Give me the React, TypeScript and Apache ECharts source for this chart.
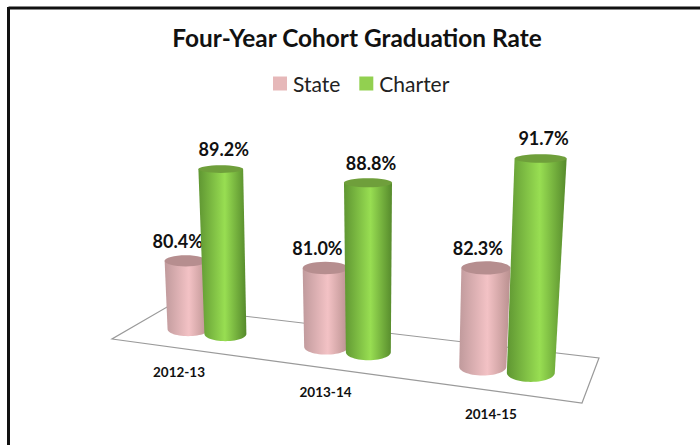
import React, { useEffect, useRef } from "react";
import * as echarts from "echarts";

const categories = ["2012-13", "2013-14", "2014-15"];
const stateValues = [80.4, 81.0, 82.3];
const charterValues = [89.2, 88.8, 91.7];

const FONT = "Lato, 'Open Sans', sans-serif";
const AXIS_MIN = 74;
const AXIS_MAX = 94;

// Floor quadrilateral: front-left, front-right, back-right, back-left
const FLOOR = [[112, 339], [582, 403], [599, 358], [167, 307]];

function makeHomography(q: number[][]) {
  const [[x0, y0], [x1, y1], [x2, y2], [x3, y3]] = q;
  const dx1 = x1 - x2, dx2 = x3 - x2, sx = x0 - x1 + x2 - x3;
  const dy1 = y1 - y2, dy2 = y3 - y2, sy = y0 - y1 + y2 - y3;
  const den = dx1 * dy2 - dx2 * dy1;
  const g = (sx * dy2 - dx2 * sy) / den;
  const h = (dx1 * sy - sx * dy1) / den;
  const a = x1 - x0 + g * x1, b = x3 - x0 + h * x3;
  const d = y1 - y0 + g * y1, e = y3 - y0 + h * y3;
  return (u: number, v: number) => {
    const w = g * u + h * v + 1;
    return { x: (a * u + b * v + x0) / w, y: (d * u + e * v + y0) / w, scale: 1 / w };
  };
}
const project = makeHomography(FLOOR);

const ringRatio = (y: number) => 0.17 + 0.001 * (y - 165);

function cylinderRenderer(
  seriesOffset: number,
  labelDx: number,
  stops: string[],
  capColor: string,
  withCategory: boolean
) {
  return (params: any, api: any) => {
    const i = params.dataIndex;
    const val = api.value(1) as number;
    const rect = params.coordSys;
    const basePt = api.coord([i, AXIS_MIN]);
    const topPt = api.coord([i, val]);
    const uCenter = (basePt[0] - rect.x) / rect.width;
    const u = uCenter + seriesOffset;
    const p = project(u, 0.47);
    const h = (basePt[1] - topPt[1]) * (1 + (p.scale - 1) * 0.85);
    const bw = 40 + 9 * u;
    const tw = bw * (1 + h / 2500);
    const bx = p.x + 1.5;
    const by = p.y;
    const tx = bx + ((bx - 380) * h) / (bx < 380 ? 5500 : 3300);
    const ty = by - h;
    const brx = bw / 2, trx = tw / 2;
    const bry = brx * ringRatio(by), tryy = trx * ringRatio(ty);

    const N = 28;
    const body: number[][] = [[tx - trx, ty], [tx + trx, ty]];
    for (let k = 0; k <= N; k++) {
      const t = (Math.PI * k) / N;
      body.push([bx + brx * Math.cos(t), by + bry * Math.sin(t)]);
    }
    const children: any[] = [
      {
        type: "polygon",
        shape: { points: body },
        style: {
          fill: new echarts.graphic.LinearGradient(0, 0, 1, 0, [
            { offset: 0, color: stops[0] },
            { offset: 0.55, color: stops[1] },
            { offset: 1, color: stops[2] },
          ]),
        },
      },
      {
        type: "ellipse",
        shape: { cx: tx, cy: ty, rx: trx, ry: tryy },
        style: { fill: capColor },
      },
      {
        type: "text",
        style: {
          text: `${val.toFixed(1)}%`,
          x: tx + labelDx,
          y: ty - 20,
          textAlign: "center",
          textVerticalAlign: "middle",
          align: "center",
          verticalAlign: "middle",
          font: `bold 18px ${FONT}`,
          fill: "#111",
        },
      },
    ];
    if (withCategory) {
      const c = project(uCenter, 0.5);
      children.push({
        type: "text",
        style: {
          text: categories[i],
          x: c.x - 29 + 20 * uCenter,
          y: c.y + 41 + 6 * uCenter,
          textAlign: "center",
          textVerticalAlign: "middle",
          align: "center",
          verticalAlign: "middle",
          font: `bold 13.5px ${FONT}`,
          fill: "#111",
        },
      });
    }
    return { type: "group", children };
  };
}

export default function App() {
  const ref = useRef<HTMLDivElement>(null);
  useEffect(() => {
    document.body.style.margin = "0";
    document.documentElement.style.overflow = "hidden";
    const chart = echarts.init(ref.current!, undefined, { renderer: "svg" });
    chart.setOption({
      animation: false,
      backgroundColor: "#fff",
      title: {
        text: "Four-Year Cohort Graduation Rate",
        left: 352,
        top: 20,
        textAlign: "center",
        textStyle: { fontFamily: FONT, fontSize: 24.4, fontWeight: "bold", color: "#111" },
      },
      legend: {
        left: 268,
        top: 68,
        icon: "rect",
        itemWidth: 14,
        itemHeight: 14,
        itemGap: 19,
        textStyle: { fontFamily: FONT, fontSize: 21, color: "#222", padding: [0, 0, 0, 1] },
        data: ["State", "Charter"],
      },
      grid: { left: 0, right: 0, top: 100, height: 218 },
      xAxis: { type: "category", data: categories, show: false },
      yAxis: { type: "value", min: AXIS_MIN, max: AXIS_MAX, show: false },
      graphic: [
        {
          type: "polygon",
          silent: true,
          z: -1,
          shape: { points: FLOOR },
          style: { fill: "#fff", stroke: "#9a9a9a", lineWidth: 1.2 },
        },
        {
          type: "line",
          silent: true,
          shape: { x1: 8.5, y1: 8, x2: 700, y2: 8 },
          style: { stroke: "#111", lineWidth: 3 },
        },
        {
          type: "line",
          silent: true,
          shape: { x1: 8.5, y1: 7, x2: 8.5, y2: 445 },
          style: { stroke: "#111", lineWidth: 3 },
        },
      ],
      series: [
        {
          name: "State",
          type: "custom",
          itemStyle: { color: "#e6b8b9" },
          encode: { x: 0, y: 1 },
          data: stateValues.map((v, i) => [i, v]),
          renderItem: cylinderRenderer(-0.042, -8, ["#c09a9c", "#f3c2c5", "#b9908f"], "#b68e8f", true),
        },
        {
          name: "Charter",
          type: "custom",
          itemStyle: { color: "#92d050" },
          encode: { x: 0, y: 1 },
          data: charterValues.map((v, i) => [i, v]),
          renderItem: cylinderRenderer(0.052, 3, ["#5f9632", "#98de52", "#568a2c"], "#6f9f3b", false),
        },
      ],
    });
    return () => chart.dispose();
  }, []);
  return <div ref={ref} style={{ width: 700, height: 445 }} />;
}
